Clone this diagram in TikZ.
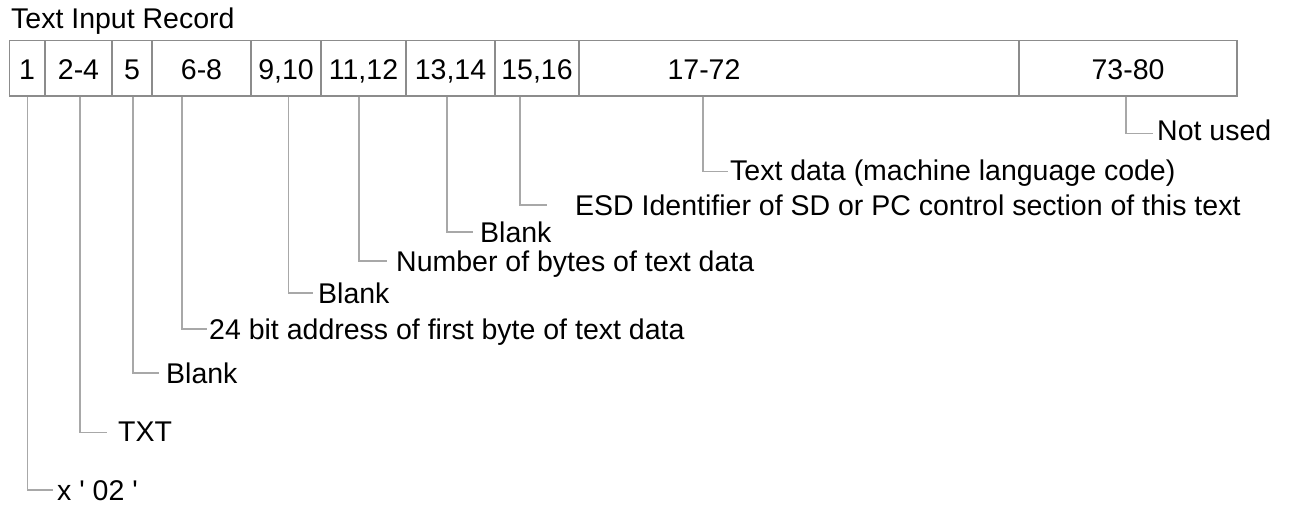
\documentclass[tikz,border=0pt]{standalone}
\usepackage{fontspec}
\setmainfont{Liberation Sans}
\definecolor{boxgray}{HTML}{8C8C8C}
\definecolor{leadgray}{HTML}{A8A8A8}
\begin{document}
\begin{tikzpicture}[x=1pt,y=-1pt,
  txt/.style={font=\fontsize{28.5}{32}\selectfont, text=black, inner sep=0pt, text height=20.4pt, text depth=0pt},
  cell/.style={draw=boxgray, line width=1.4pt, minimum height=55.3pt, inner sep=0pt, txt, text height=26.6pt, text depth=3.3pt},
  lbl/.style={txt, anchor=west},
  lead/.style={draw=leadgray, line width=1.5pt}
]
\useasboundingbox (0,0) rectangle (1289,505);
\node[txt, anchor=base west] (title) at (11,28.5) {Text Input Record};
% cells
\node[cell, minimum width=35.7pt] (c1) at (27.15,68.35) {1};
\node[cell, minimum width=67pt]   (c2) at (78.5,68.35) {2-4};
\node[cell, minimum width=40pt]   (c3) at (132,68.35) {5};
\node[cell, minimum width=99pt]   (c4) at (201.5,68.35) {6-8};
\node[cell, minimum width=70pt]   (c5) at (286,68.35) {9,10};
\node[cell, minimum width=85pt]   (c6) at (363.5,68.35) {11,12};
\node[cell, minimum width=89pt]   (c7) at (450.5,68.35) {13,14};
\node[cell, minimum width=84pt]   (c8) at (537,68.35) {15,16};
\node[cell, minimum width=440pt]  (c9) at (799,68.35) {};
\node[cell, draw=none, minimum width=80pt] (t9) at (704,68.35) {17-72};
\node[cell, minimum width=218pt]  (c10) at (1128,68.35) {73-80};
% labels
\node[lbl] (l1)  at (57,490)    {x \textquotesingle\ 02 \textquotesingle};
\node[lbl] (l2)  at (118,431)   {TXT};
\node[lbl] (l3)  at (166,373)   {Blank};
\node[lbl] (l4)  at (209,329)   {24 bit address of first byte of text data};
\node[lbl] (l5)  at (318,293)   {Blank};
\node[lbl] (l6)  at (396,261)   {Number of bytes of text data};
\node[lbl] (l7)  at (480,232)   {Blank};
\node[lbl] (l8)  at (575,205)   {ESD Identifier of SD or PC control section of this text};
\node[lbl] (l9)  at (730,170)   {Text data (machine language code)};
\node[lbl] (l10) at (1157,130)  {Not used};
% leaders
\draw[lead] ([xshift=0.5]c1.south)   |- ([xshift=-4]l1.west);
\draw[lead] ([xshift=1.5]c2.south)   |- ([xshift=-11,yshift=-1.7]l2.west);
\draw[lead] ([xshift=1]c3.south)     |- ([xshift=-7]l3.west);
\draw[lead] ([xshift=-19.5]c4.south) |- ([xshift=-2]l4.west);
\draw[lead] ([xshift=2.5]c5.south)   |- ([xshift=-5]l5.west);
\draw[lead] ([xshift=-4.5]c6.south)  |- ([xshift=-9]l6.west);
\draw[lead] ([xshift=-3.5]c7.south)  |- ([xshift=-7]l7.west);
\draw[lead] ([xshift=-17]c8.south)   |- ([xshift=-28]l8.west);
\draw[lead] ([xshift=-96]c9.south)   |- ([xshift=-2,yshift=-1.7]l9.west);
\draw[lead] ([xshift=-2]c10.south)   |- ([xshift=-4,yshift=-3.3]l10.west);
\end{tikzpicture}
\end{document}
